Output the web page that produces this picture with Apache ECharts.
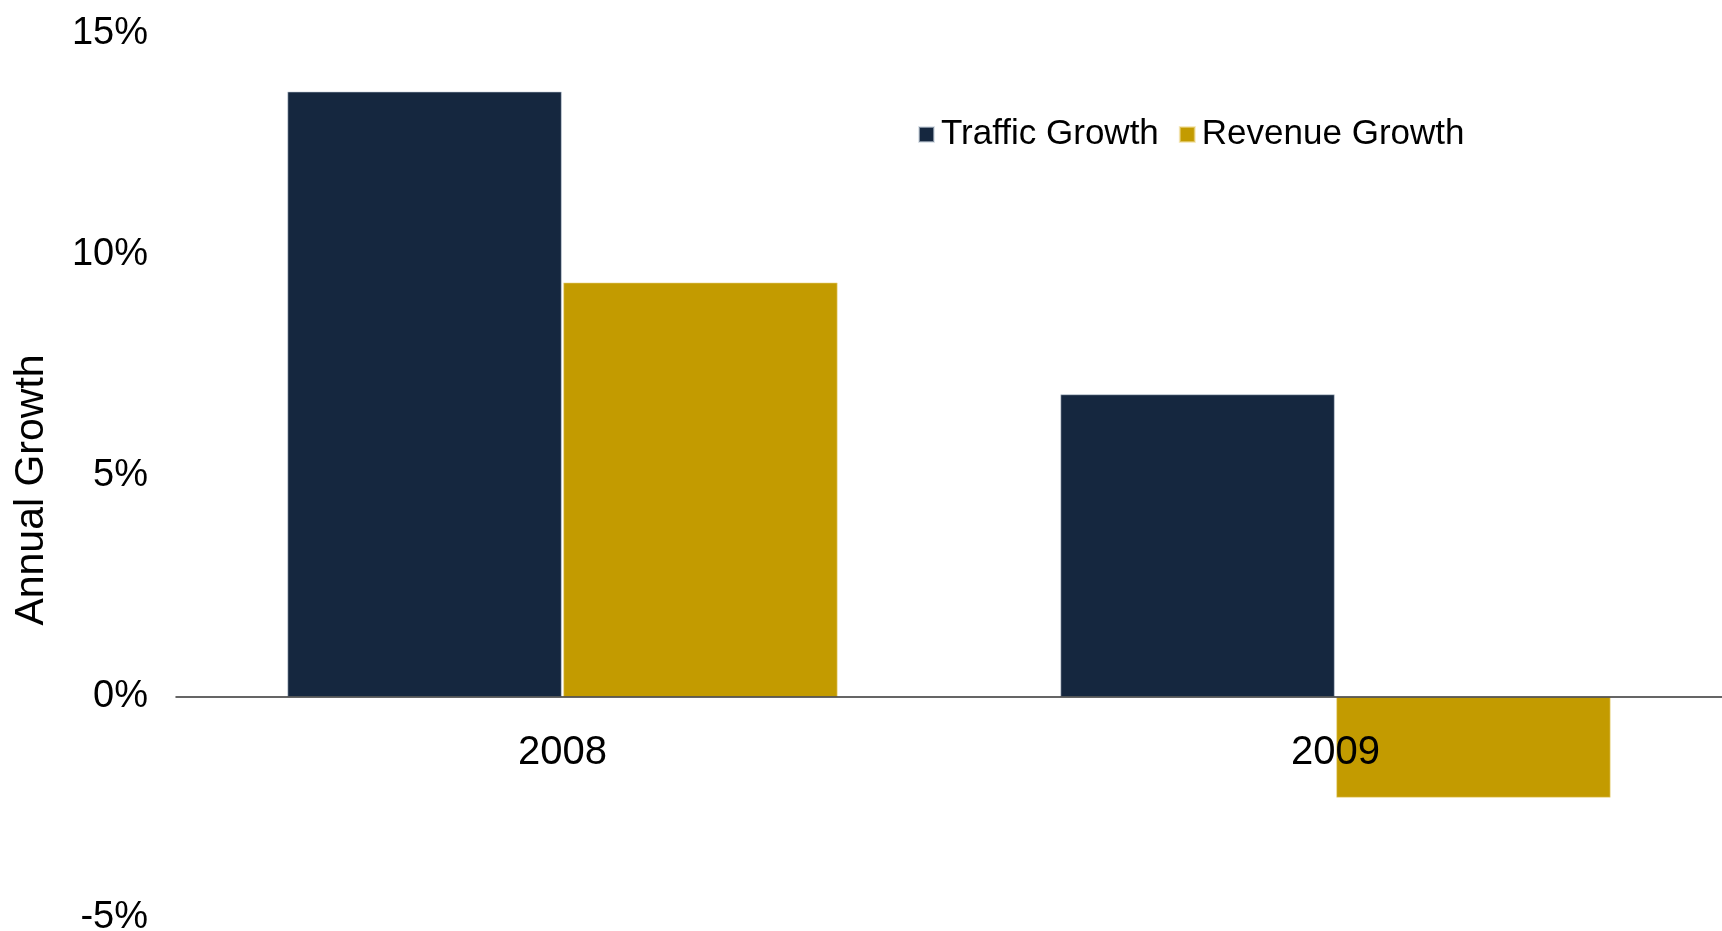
<!DOCTYPE html>
<html>
<head>
<meta charset="utf-8">
<script src="https://cdn.jsdelivr.net/npm/echarts@6/dist/echarts.min.js"></script>
<style>
html,body{margin:0;padding:0;background:#fff;}
#chart{width:1722px;height:931px;}
</style>
</head>
<body>
<div id="chart"></div>
<script>
const categories = ['2008', '2009'];
const trafficGrowth = [13.7, 6.85];
const revenueGrowth = [9.38, -2.28];
const yTicks = { min: -5, max: 15, interval: 5 };
const seriesNames = ['Traffic Growth', 'Revenue Growth'];
const yTitle = 'Annual Growth';

const FONT = '"Liberation Sans", Arial, Helvetica, sans-serif';
const GRID = { left: 176, right: 0, top: 34, bottom: 13 };
const plotH = 931 - GRID.top - GRID.bottom;
// place the category axis at the zero line (distance from bottom of grid)
const zeroOffset = -plotH * (0 - yTicks.min) / (yTicks.max - yTicks.min);

const chart = echarts.init(document.getElementById('chart'));
chart.setOption({
  animation: false,
  backgroundColor: '#ffffff',
  color: ['#15273f', '#c39b00'],
  legend: {
    left: 913, top: 112,
    icon: 'rect', itemWidth: 15, itemHeight: 15, itemGap: 20,
    textStyle: { fontFamily: FONT, fontSize: 35, color: '#000', padding: [0, 0, 0, 2] },
    data: seriesNames
  },
  grid: Object.assign({ containLabel: false, outerBoundsMode: 'none' }, GRID),
  xAxis: {
    type: 'category',
    data: categories,
    position: 'bottom',
    offset: zeroOffset,
    z: 10,
    axisLine: { onZero: false, lineStyle: { color: '#333', width: 1.5 } },
    axisTick: { show: false },
    axisLabel: { fontFamily: FONT, fontSize: 40, color: '#000', margin: 36 },
    splitLine: { show: false }
  },
  yAxis: {
    type: 'value',
    min: yTicks.min, max: yTicks.max, interval: yTicks.interval,
    name: yTitle,
    nameLocation: 'middle',
    nameRotate: 90,
    nameGap: 124,
    nameTextStyle: { fontFamily: FONT, fontSize: 41, color: '#000', padding: [0, 0, 0, -28] },
    axisLine: { show: false },
    axisTick: { show: false },
    splitLine: { show: false },
    axisLabel: { fontFamily: FONT, fontSize: 38, color: '#000', margin: 28, padding: [0, 0, 4, 0], formatter: v => v + '%' }
  },
  series: [
    {
      name: seriesNames[0], type: 'bar', data: trafficGrowth,
      barGap: '0.5%', barCategoryGap: '28.8%',
      itemStyle: { borderColor: 'rgba(200,210,220,0.6)', borderWidth: 1 }
    },
    {
      name: seriesNames[1], type: 'bar', data: revenueGrowth,
      barGap: '0.5%', barCategoryGap: '28.8%',
      itemStyle: { borderColor: 'rgba(240,220,150,0.6)', borderWidth: 1 }
    }
  ]
});
</script>
</body>
</html>
